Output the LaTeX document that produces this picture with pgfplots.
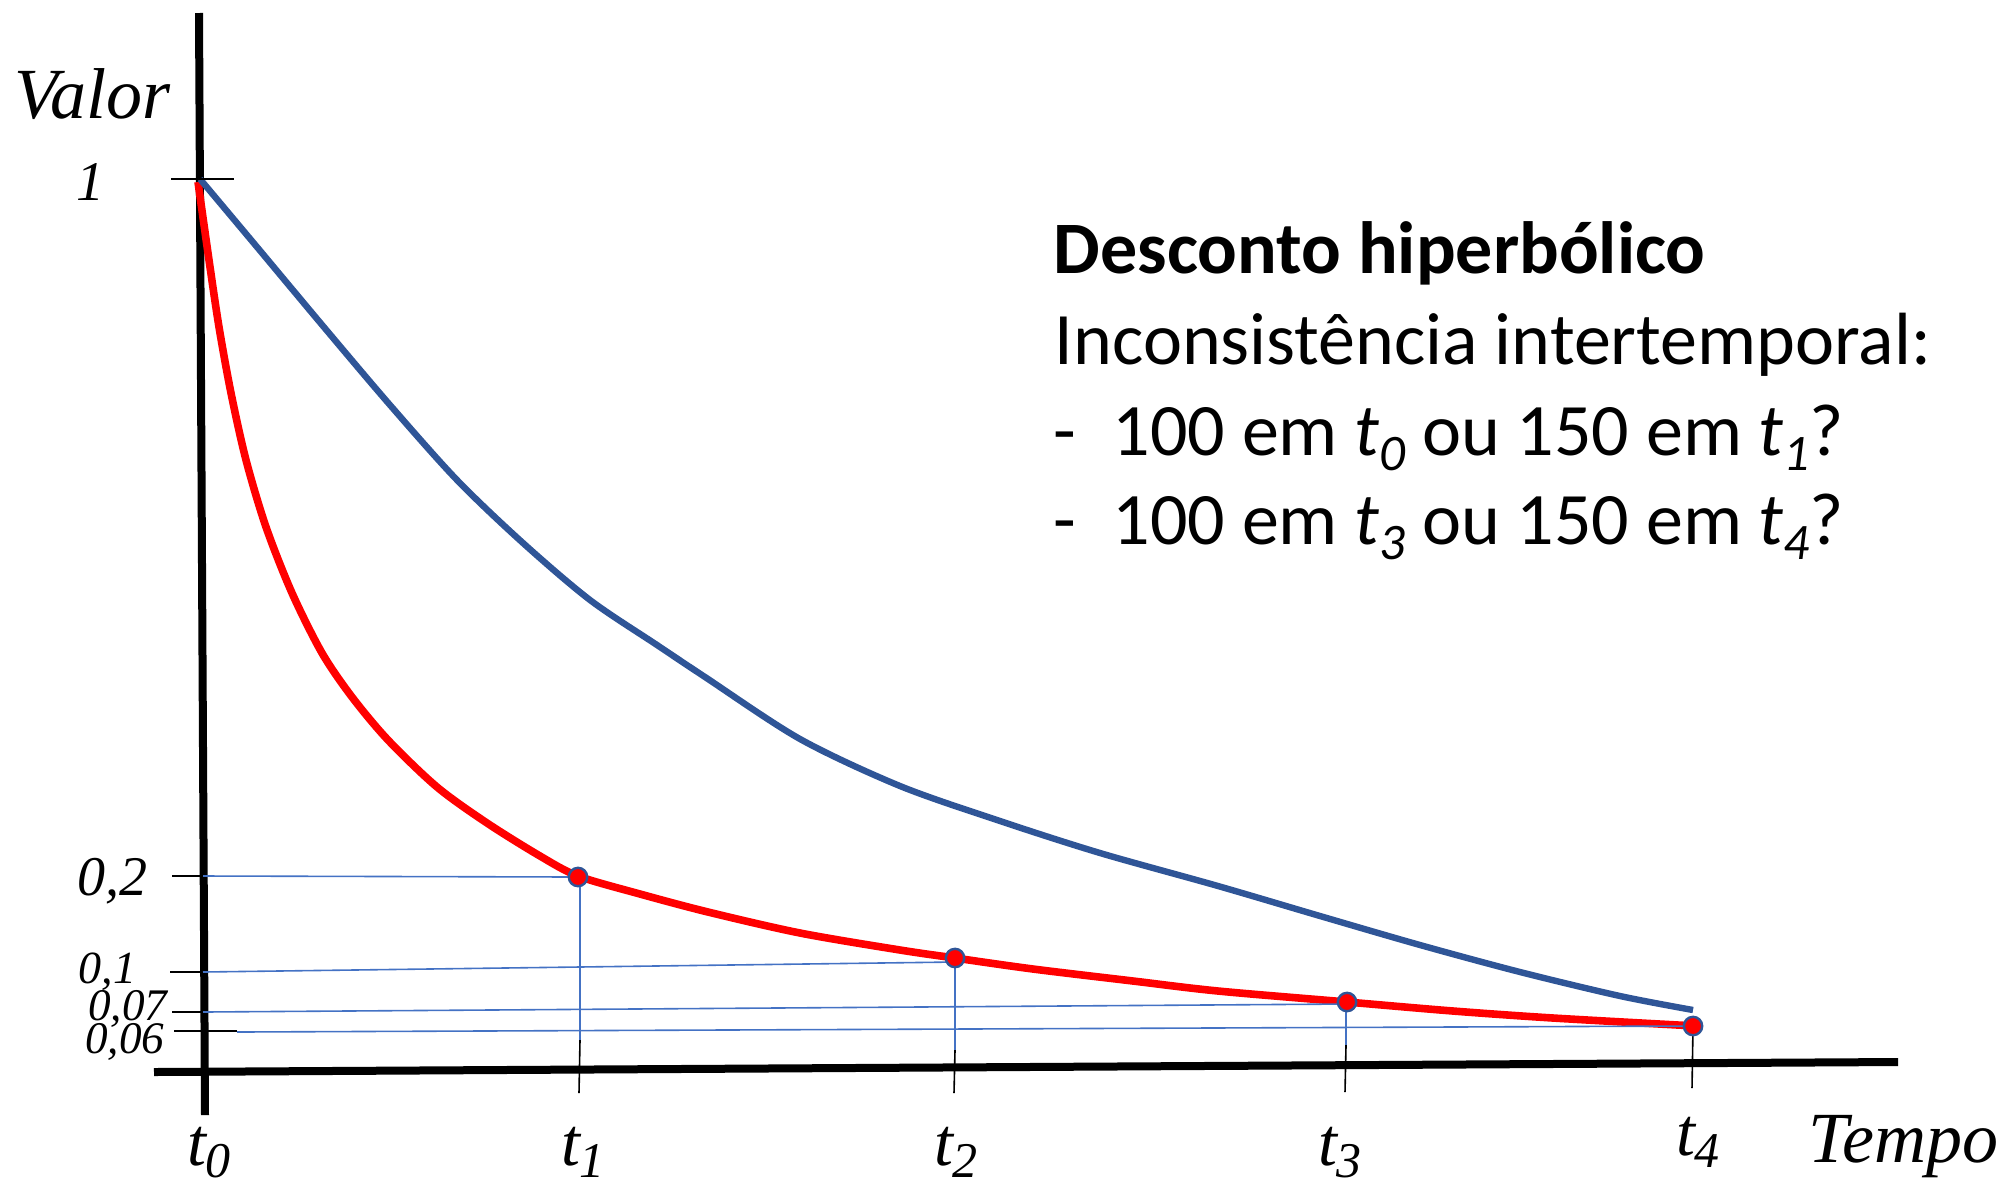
\documentclass[border=0pt]{standalone}
\usepackage{fontspec}
\setmainfont{Liberation Serif}
\newfontfamily\calfont{Carlito}
\usepackage{pgfplots}
\pgfplotsset{compat=1.18}
\definecolor{curveblue}{HTML}{2F5597}
\definecolor{thinblue}{HTML}{4472C4}
\definecolor{pred}{HTML}{FF0000}
\newcommand{\tlab}[1]{\fontsize{17}{17}\selectfont\itshape t\raisebox{-3.2pt}{\fontsize{12.5}{12.5}\selectfont #1}}
\newcommand{\ct}[1]{\textit{t}\raisebox{-3.8pt}{\fontsize{12.8}{12.8}\selectfont\itshape #1}}
\newcommand{\nodepth}[1]{\raisebox{0pt}[\height][0pt]{#1}}
\begin{document}
\begin{tikzpicture}
\begin{axis}[
  width=502.5pt, height=297.25pt, scale only axis,
  xmin=0, xmax=2010, ymin=0, ymax=1189, y dir=reverse,
  hide axis, clip=false,
  at={(0,0)}, anchor=south west,
]
% axes
\addplot[black, line width=2pt] coordinates {(199,13) (205,1115)};
\addplot[black, line width=2pt] coordinates {(154,1072) (1898,1062)};
% hyperbolic (red) curve
\addplot[pred, line width=1.9pt, smooth, tension=0.5] coordinates {
 (198,182) (209,260) (219,327) (231,393) (246,460) (266,527) (292,593)
 (322,653) (352,697) (388,740) (437,787) (487,823) (540,856) (578,876)
 (640,894) (708,912) (800,933) (900,950) (955,958) (1033,969) (1133,981)
 (1218,991) (1347,1002) (1453,1011) (1553,1018) (1696,1026)};
% exponential (blue) curve
\addplot[curveblue, line width=1.6pt, smooth, tension=0.5] coordinates {
 (200,179) (257,247) (323,326) (390,405) (457,480) (523,543) (590,600)
 (657,645) (705,677) (800,739) (900,786) (1000,821) (1100,853) (1218,886)
 (1320,916) (1420,945) (1520,972) (1620,996) (1693,1010)};
% y ticks (black)
\addplot[black, line width=0.4pt] coordinates {(171,179) (234,179)};
\addplot[black, line width=0.4pt] coordinates {(172,876) (203,876)};
\addplot[black, line width=0.4pt] coordinates {(170,972) (203,972)};
\addplot[black, line width=0.4pt] coordinates {(172,1012) (203,1012)};
\addplot[black, line width=0.4pt] coordinates {(174,1031) (237,1031)};
% guide lines (blue)
\addplot[thinblue, line width=0.4pt] coordinates {(203,876) (578,877)};
\addplot[thinblue, line width=0.4pt] coordinates {(203,972) (955,962)};
\addplot[thinblue, line width=0.4pt] coordinates {(203,1012) (1347,1004)};
\addplot[thinblue, line width=0.4pt] coordinates {(237,1032) (1693,1026)};
\addplot[thinblue, line width=0.4pt] coordinates {(580,877) (580,1040)};
\addplot[thinblue, line width=0.4pt] coordinates {(955,958) (955,1050)};
\addplot[thinblue, line width=0.4pt] coordinates {(1346,1002) (1346,1045)};
% x ticks (black)
\addplot[black, line width=0.4pt] coordinates {(580,1040) (579,1093)};
\addplot[black, line width=0.4pt] coordinates {(955,1050) (954,1093)};
\addplot[black, line width=0.4pt] coordinates {(1346,1045) (1345,1092)};
\addplot[black, line width=0.4pt] coordinates {(1693,1026) (1692,1088)};
% points
\addplot[only marks, mark=*, mark size=2.3pt,
  mark options={fill=pred, draw=curveblue, line width=0.6pt}]
  coordinates {(578,877) (955,958) (1347,1002) (1693,1026)};
% axis labels
\node[anchor=base west, inner sep=0pt, font=\fontsize{18}{18}\selectfont\itshape] at (axis cs:14,118) {Valor};
\node[anchor=base west, inner sep=0pt, font=\fontsize{18}{18}\selectfont\itshape] at (axis cs:1808,1162) {Tempo};
% y tick labels
\node[anchor=base east, inner sep=0pt, font=\fontsize{14}{14}\selectfont\itshape] at (axis cs:105,200) {\nodepth{1}};
\node[anchor=base east, inner sep=0pt, font=\fontsize{14}{14}\selectfont\itshape] at (axis cs:148,895) {\nodepth{0,2}};
\node[anchor=base east, inner sep=0pt, font=\fontsize{11.5}{11.5}\selectfont\itshape] at (axis cs:137,983) {\nodepth{0,1}};
\node[anchor=base east, inner sep=0pt, font=\fontsize{11.3}{11.3}\selectfont\itshape] at (axis cs:168,1020) {\nodepth{0,07}};
\node[anchor=base east, inner sep=0pt, font=\fontsize{11.3}{11.3}\selectfont\itshape] at (axis cs:165,1053) {\nodepth{0,06}};
% x tick labels
\node[anchor=base, inner sep=0pt] at (axis cs:209,1165) {\tlab{0}};
\node[anchor=base, inner sep=0pt] at (axis cs:583,1165) {\tlab{1}};
\node[anchor=base, inner sep=0pt] at (axis cs:956,1165) {\tlab{2}};
\node[anchor=base, inner sep=0pt] at (axis cs:1340,1165) {\tlab{3}};
\node[anchor=base, inner sep=0pt] at (axis cs:1698,1155) {\tlab{4}};
% text block
\node[anchor=base west, inner sep=0pt, font=\calfont\fontsize{18.5}{18.5}\selectfont\bfseries] at (axis cs:1053,273) {Desconto hiperbólico};
\node[anchor=base west, inner sep=0pt, font=\calfont\fontsize{18.5}{18.5}\selectfont] at (axis cs:1054,364) {Inconsistência intertemporal:};
\node[anchor=base west, inner sep=0pt, font=\calfont\fontsize{18.5}{18.5}\selectfont] at (axis cs:1053,455) {-};
\node[anchor=base west, inner sep=0pt, font=\calfont\fontsize{18.5}{18.5}\selectfont] at (axis cs:1112,455) {100 em \ct{0} ou 150 em \ct{1}?};
\node[anchor=base west, inner sep=0pt, font=\calfont\fontsize{18.5}{18.5}\selectfont] at (axis cs:1053,544) {-};
\node[anchor=base west, inner sep=0pt, font=\calfont\fontsize{18.5}{18.5}\selectfont] at (axis cs:1112,544) {100 em \ct{3} ou 150 em \ct{4}?};
\end{axis}
\pgfresetboundingbox
\path[use as bounding box] (current axis.south west) rectangle (current axis.north east);
\end{tikzpicture}
\end{document}
